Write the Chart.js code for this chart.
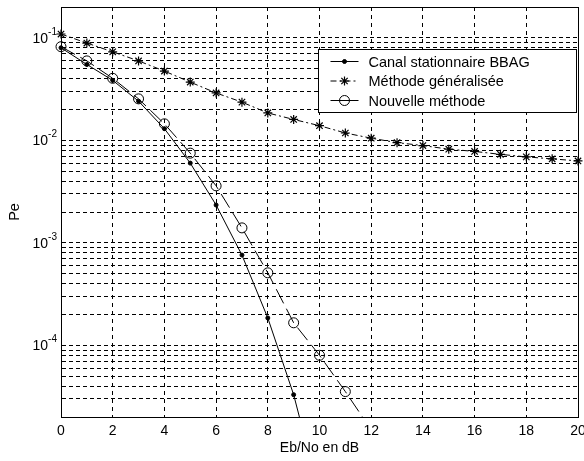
<!DOCTYPE html>
<html>
<head>
<meta charset="utf-8">
<script src="https://cdn.jsdelivr.net/npm/chart.js@4.4.0/dist/chart.umd.min.js"></script>
<style>
  html, body { margin: 0; padding: 0; background: #fff; }
</style>
</head>
<body>
<canvas id="myChart" width="584" height="461"></canvas>
<script>
// Eb/No (dB) for every plotted point
const ebno = [0, 1, 2, 3, 4, 5, 6, 7, 8, 9, 10, 11, 12, 13, 14, 15, 16, 17, 18, 19, 20];

// Pe values
const canalBBAG = [0.080, 0.055, 0.0385, 0.0241, 0.0130, 0.0060, 0.00234, 0.00076, 0.000185, 0.000033, 0.0000035];
const methodeGen = [0.109, 0.089, 0.073, 0.0596, 0.0474, 0.037, 0.029, 0.0236, 0.0185, 0.0160, 0.0139,
                    0.0118, 0.0105, 0.0095, 0.0089, 0.0082, 0.0078, 0.0073, 0.0069, 0.0066, 0.0063];
const nouvelleMeth = [0.082, 0.0596, 0.0403, 0.0254, 0.0145, 0.0075, 0.0036, 0.0014, 0.00051, 0.000166,
                      0.000080, 0.0000354, 0.000015];

const seriesNames = ['Canal stationnaire BBAG', 'Méthode généralisée', 'Nouvelle méthode'];
const xTicks = [0, 2, 4, 6, 8, 10, 12, 14, 16, 18, 20];
const yDecades = [-4, -3, -2, -1];   // labelled powers of ten
const yMin = 2e-5, yMax = 0.2;

const FONT = "'Liberation Sans', Arial, sans-serif";

const toPts = (vals) => vals.map((v, i) => ({x: ebno[i], y: v}));

const datasets = [
  {
    label: seriesNames[0],
    data: toPts(canalBBAG),
    borderColor: '#000', backgroundColor: '#000', borderWidth: 1,
    pointStyle: 'circle', pointRadius: 2, pointBorderWidth: 1,
    clip: {left: 8, right: 8, top: 8, bottom: 0}
  },
  {
    label: seriesNames[1],
    data: toPts(methodeGen),
    borderColor: '#000', backgroundColor: '#000', borderWidth: 1,
    borderDash: [6, 3, 2, 3],
    pointStyle: 'star', pointRadius: 4.5, pointBorderWidth: 1.2,
    clip: {left: 8, right: 8, top: 8, bottom: 0}
  },
  {
    label: seriesNames[2],
    data: toPts(nouvelleMeth),
    borderColor: '#000', backgroundColor: 'rgba(0,0,0,0)', borderWidth: 1,
    borderDash: [16, 6],
    pointStyle: 'circle', pointRadius: 5, pointBorderWidth: 1,
    clip: {left: 8, right: 8, top: 8, bottom: 0}
  }
];

// y labels as 10 with a raised exponent, placed by the log scale
const yLabelPlugin = {
  id: 'yLabels',
  afterDraw(chart) {
    const {ctx} = chart;
    const ys = chart.scales.y;
    ctx.save();
    ctx.fillStyle = '#000';
    ctx.textBaseline = 'middle';
    yDecades.forEach(e => {
      const py = ys.getPixelForValue(Math.pow(10, e));
      const right = ys.right - 4;
      ctx.font = '10px ' + FONT;
      ctx.textAlign = 'right';
      const ex = String(e);
      ctx.fillText(ex, right, py - 6);
      const w = ctx.measureText(ex).width;
      ctx.font = '14px ' + FONT;
      ctx.fillText('10', right - w, py + 1);
    });
    ctx.restore();
  }
};

// box round the plot + legend, matlab style
const framePlugin = {
  id: 'frame',
  afterDatasetsDraw(chart) {
    const {ctx, chartArea: ca} = chart;
    ctx.save();
    ctx.strokeStyle = '#000';
    ctx.lineWidth = 1;
    ctx.setLineDash([]);
    ctx.strokeRect(Math.round(ca.left) + 0.5, Math.round(ca.top) + 0.5,
                   Math.round(ca.right - ca.left), Math.round(ca.bottom - ca.top));

    // legend
    const bx = Math.round(ca.right) - 259.5, by = Math.round(ca.top) + 42.5;
    const bw = 258, bh = 63;
    ctx.fillStyle = '#fff';
    ctx.fillRect(bx, by, bw, bh);
    ctx.strokeRect(bx, by, bw, bh);
    ctx.font = '14.5px ' + FONT;
    ctx.textBaseline = 'middle';
    ctx.textAlign = 'left';
    const rows = [by + 12, by + 31.5, by + 51];
    datasets.forEach((ds, i) => {
      const y = rows[i];
      ctx.save();
      ctx.strokeStyle = '#000';
      ctx.lineWidth = 1;
      ctx.setLineDash(i === 1 ? ds.borderDash : []);
      ctx.beginPath();
      ctx.moveTo(bx + 12, y);
      ctx.lineTo(bx + 40, y);
      ctx.stroke();
      ctx.setLineDash([]);
      ctx.fillStyle = ds.backgroundColor;
      ctx.lineWidth = ds.pointBorderWidth;
      Chart.helpers.drawPoint(ctx, {
        pointStyle: ds.pointStyle, radius: ds.pointRadius, rotation: 0, borderWidth: ds.pointBorderWidth
      }, bx + 26, y);
      ctx.restore();
      ctx.fillStyle = '#000';
      ctx.fillText(ds.label, bx + 50, y + 1);
    });
    ctx.restore();
  }
};

new Chart(document.getElementById('myChart'), {
  type: 'line',
  data: {datasets},
  options: {
    responsive: false,
    animation: false,
    devicePixelRatio: 1,
    layout: {padding: {top: 7, right: 6, left: 0, bottom: 0}},
    plugins: {legend: {display: false}, tooltip: {enabled: false}},
    elements: {line: {tension: 0}},
    scales: {
      x: {
        type: 'linear', min: 0, max: 20,
        afterBuildTicks: (s) => { s.ticks = xTicks.map(v => ({value: v})); },
        afterFit: (s) => { s.height = 44; s.paddingLeft = 0; s.paddingRight = 0; },
        ticks: {color: '#000', font: {family: FONT, size: 14}, padding: 6, maxRotation: 0, autoSkip: false},
        grid: {color: '#000', lineWidth: 1, drawTicks: false},
        border: {display: true, color: '#000', width: 1, dash: [4, 4]},
        title: {display: true, text: 'Eb/No en dB', color: '#000', font: {family: FONT, size: 14}, padding: {top: 0, bottom: 4}}
      },
      y: {
        type: 'logarithmic', min: yMin, max: yMax,
        afterBuildTicks: (s) => {
          const t = [];
          for (let e = -5; e <= -1; e++) {
            for (let m = 1; m <= 9; m++) {
              const v = m * Math.pow(10, e);
              if (v >= yMin * 0.999 && v <= yMax * 1.001) t.push({value: v});
            }
          }
          s.ticks = t;
        },
        afterFit: (s) => { s.width = 61; },
        ticks: {display: false},
        grid: {color: '#000', lineWidth: 1, drawTicks: false},
        border: {display: true, color: '#000', width: 1, dash: [4, 3]},
        title: {display: true, text: 'Pe', color: '#000', font: {family: FONT, size: 14.5}, padding: {top: 6, bottom: 0}}
      }
    }
  },
  plugins: [framePlugin, yLabelPlugin]
});
</script>
</body>
</html>
